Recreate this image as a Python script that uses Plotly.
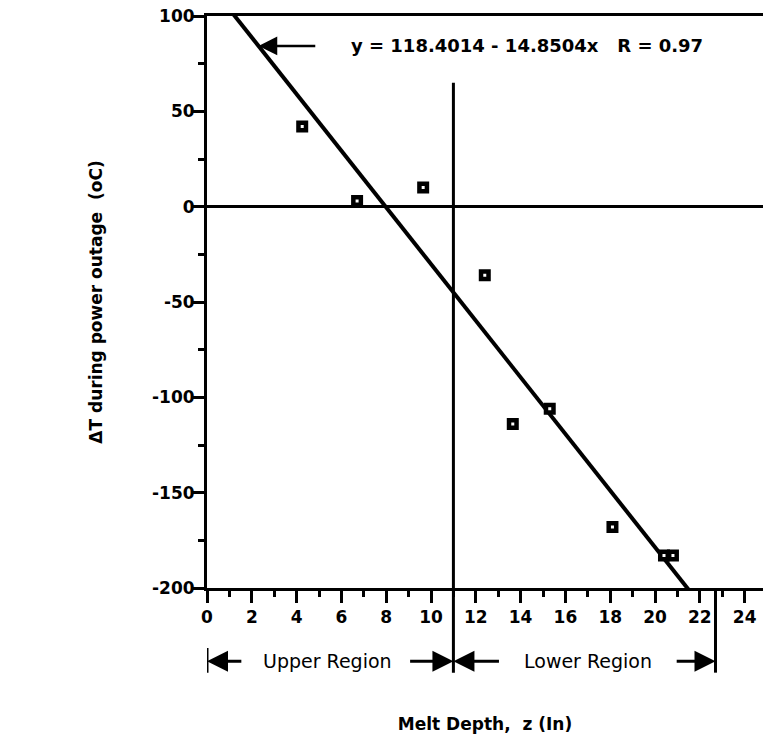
import plotly.graph_objects as go

# ---- data ----
depth_in = [4.25, 6.7, 9.65, 12.4, 13.65, 15.3, 18.1, 20.4, 20.8]
delta_t = [42, 3, 10, -36, -114, -106, -168, -183, -183]

fit_intercept = 118.4014
fit_slope = -14.8504
fit_label = "y = 118.4014 - 14.8504x   R = 0.97"

x_tick_vals = list(range(0, 25, 2))
x_tick_text = [str(v) for v in x_tick_vals]
y_tick_vals = [-200, -150, -100, -50, 0, 50, 100]
y_tick_text = ["-200", "-150", "-100", "-50", "0", "50", "100"]

region_start = 0
region_boundary = 11
region_end = 22.7
region_labels = ["Upper Region", "Lower Region"]
region_label_x = [5.4, 17.0]
divider_top = 65

x_range = [0, 24.82]
y_range = [-200, 100]

# ---- figure ----
BLACK = "black"
FONT = "DejaVu Sans"

fit_x = [x_range[0], x_range[1]]
fit_y = [fit_intercept + fit_slope * v for v in fit_x]

fig = go.Figure()
fig.add_trace(go.Scatter(
    x=fit_x, y=fit_y, mode="lines",
    line=dict(color=BLACK, width=4), hoverinfo="skip", showlegend=False,
))
fig.add_trace(go.Scatter(
    x=depth_in, y=delta_t, mode="markers",
    marker=dict(symbol="square", size=7.5, color="white",
                line=dict(color=BLACK, width=4.5)),
    showlegend=False,
))


def paper_y(v):
    return (v - y_range[0]) / (y_range[1] - y_range[0])


row_y = -0.128      # region-arrow row (paper)
low_y = -0.148      # bottom of the divider lines (paper)

shapes = [
    dict(type="line", xref="x", yref="paper", x0=region_boundary, x1=region_boundary,
         y0=low_y, y1=paper_y(divider_top), line=dict(color=BLACK, width=3)),
    dict(type="line", xref="x", yref="paper", x0=region_start, x1=region_start,
         y0=low_y, y1=-0.105, line=dict(color=BLACK, width=3)),
    dict(type="line", xref="x", yref="paper", x0=region_end, x1=region_end,
         y0=low_y, y1=0, line=dict(color=BLACK, width=3)),
]

annotations = [
    dict(x=14.3, y=84.3, xref="x", yref="y", text=fit_label, showarrow=False,
         font=dict(family=FONT, size=18, color=BLACK, weight="bold")),
    dict(x=2.3, y=84.3, xref="x", yref="y", ax=4.9, ay=84.3, axref="x", ayref="y",
         text="", showarrow=True, arrowhead=2, arrowsize=1.5, arrowwidth=2.5,
         arrowcolor=BLACK),
]

region_arrows = [
    (region_start, 1.6),
    (region_boundary, 9.0),
    (region_boundary, 13.1),
    (region_end, 20.9),
]
for head, tail in region_arrows:
    annotations.append(dict(
        x=head, y=row_y, xref="x", yref="paper", ax=tail, ay=0, axref="x", ayref="pixel",
        text="", showarrow=True, arrowhead=2, arrowsize=1.4, arrowwidth=3,
        arrowcolor=BLACK, standoff=0,
    ))
for lbl, lx in zip(region_labels, region_label_x):
    annotations.append(dict(
        x=lx, y=row_y, xref="x", yref="paper", text=lbl, showarrow=False,
        xanchor="center", yanchor="middle",
        font=dict(family=FONT, size=19, color=BLACK),
    ))

fig.update_layout(
    width=763, height=746,
    margin=dict(l=207, r=0, t=16, b=158, pad=0),
    paper_bgcolor="white", plot_bgcolor="white",
    shapes=shapes, annotations=annotations,
    font=dict(family=FONT, color=BLACK),
)

fig.update_xaxes(
    range=x_range, tickmode="array", tickvals=x_tick_vals, ticktext=x_tick_text,
    ticks="outside", ticklen=12, tickwidth=3, tickcolor=BLACK,
    minor=dict(dtick=1, tick0=0, ticks="outside", ticklen=6, tickwidth=3, tickcolor=BLACK),
    showline=True, linewidth=3, linecolor=BLACK, mirror=True,
    showgrid=False, zeroline=False,
    tickfont=dict(family=FONT, size=17, color=BLACK, weight="bold"),
    title=dict(text="Melt Depth,  z (In)", standoff=92,
               font=dict(family=FONT, size=17, color=BLACK, weight="bold")),
)
fig.update_yaxes(
    range=y_range, tickmode="array", tickvals=y_tick_vals, ticktext=y_tick_text,
    ticks="outside", ticklen=12, tickwidth=3, tickcolor=BLACK,
    minor=dict(dtick=25, tick0=0, ticks="outside", ticklen=6, tickwidth=3, tickcolor=BLACK),
    showline=True, linewidth=3, linecolor=BLACK,
    showgrid=False, zeroline=True, zerolinewidth=2.5, zerolinecolor=BLACK,
    tickfont=dict(family=FONT, size=17, color=BLACK, weight="bold"),
    ticklabelstandoff=-6,
    title=dict(text="ΔT during power outage  (oC)", standoff=46,
               font=dict(family=FONT, size=17, color=BLACK, weight="bold")),
)

fig.write_html("out.html")
